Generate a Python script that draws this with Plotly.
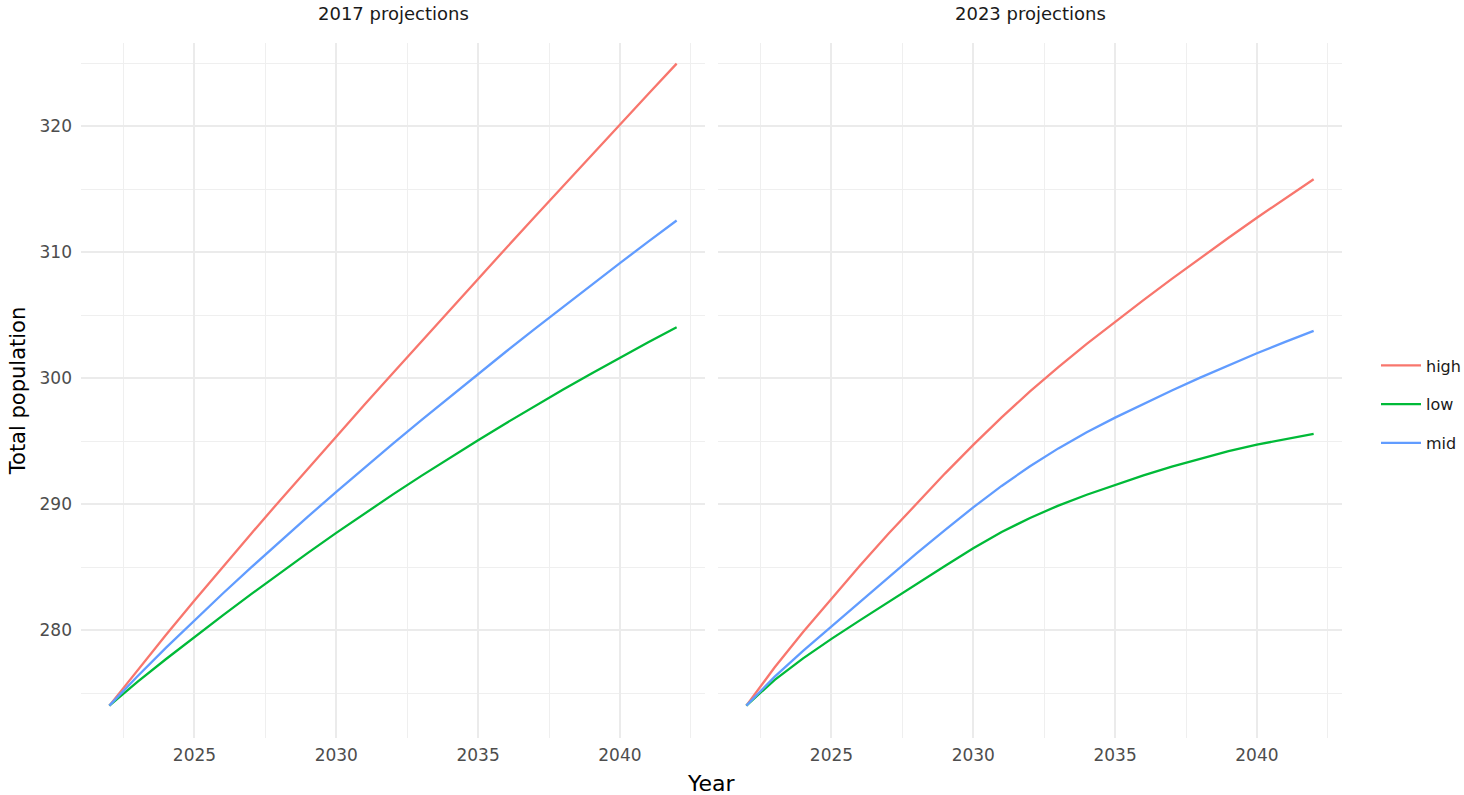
import plotly.graph_objects as go

# Projected total population (millions), annual values 2022-2042
years = list(range(2022, 2043))

high_2017 = [274.00, 276.85, 279.63, 282.35, 285.02, 287.65, 290.25, 292.82, 295.37, 297.90, 300.41,
             302.91, 305.40, 307.88, 310.35, 312.81, 315.26, 317.70, 320.13, 322.55, 324.96]
mid_2017 = [274.00, 276.35, 278.60, 280.78, 282.90, 284.97, 287.00, 289.00, 290.97, 292.90, 294.80,
            296.67, 298.51, 300.33, 302.13, 303.91, 305.67, 307.41, 309.13, 310.83, 312.51]
low_2017 = [274.00, 275.90, 277.70, 279.45, 281.17, 282.85, 284.50, 286.12, 287.71, 289.26, 290.77,
            292.24, 293.67, 295.07, 296.44, 297.78, 299.09, 300.37, 301.62, 302.84, 304.03]

high_2023 = [274.00, 277.05, 279.85, 282.50, 285.10, 287.62, 290.06, 292.42, 294.70, 296.88, 298.94,
             300.88, 302.72, 304.48, 306.19, 307.87, 309.52, 311.14, 312.73, 314.28, 315.79]
mid_2023 = [274.00, 276.30, 278.35, 280.30, 282.25, 284.18, 286.08, 287.94, 289.74, 291.44, 293.00,
            294.42, 295.70, 296.86, 297.96, 299.02, 300.04, 301.02, 301.97, 302.88, 303.75]
low_2023 = [274.00, 276.05, 277.75, 279.30, 280.77, 282.22, 283.66, 285.09, 286.50, 287.78, 288.90,
            289.88, 290.74, 291.52, 292.28, 292.98, 293.62, 294.20, 294.72, 295.17, 295.57]

panel_titles = ["2017 projections", "2023 projections"]
scenarios = ["high", "low", "mid"]
colors = {"high": "#F8766D", "low": "#00BA38", "mid": "#619CFF"}

panels = [
    {"high": high_2017, "low": low_2017, "mid": mid_2017},
    {"high": high_2023, "low": low_2023, "mid": mid_2023},
]

FONT = "DejaVu Sans"
W, H = 1464, 795
ML, MR, MT, MB = 81, 122, 43, 57
plot_w = W - ML - MR
plot_h = H - MT - MB
gap = 13 / plot_w
half = (1 - gap) / 2

fig = go.Figure()

axis_names = [("x", "y"), ("x2", "y2")]
for i, data in enumerate(panels):
    xa, ya = axis_names[i]
    for s in scenarios:
        fig.add_trace(go.Scatter(
            x=years, y=data[s], mode="lines", name=s,
            line=dict(color=colors[s], width=2.3),
            xaxis=xa, yaxis=ya, legendgroup=s, showlegend=(i == 0),
        ))

grid_major = dict(showgrid=True, gridcolor="#EBEBEB", gridwidth=1.6, zeroline=False,
                  showline=False, ticks="")
minor_x = dict(dtick=2.5, tick0=2020, showgrid=True, gridcolor="#EFEFEF", gridwidth=1)
minor_y = dict(dtick=5, tick0=270, showgrid=True, gridcolor="#EFEFEF", gridwidth=1)

xcommon = dict(range=[2021, 2043], tick0=2025, dtick=5, minor=minor_x,
               tickfont=dict(family=FONT, size=17, color="#4D4D4D"),
               ticklabelstandoff=5, **grid_major)
ycommon = dict(range=[271.43, 326.6], tick0=280, dtick=10, minor=minor_y,
               tickfont=dict(family=FONT, size=17, color="#4D4D4D"), **grid_major)

fig.update_layout(
    width=W, height=H,
    margin=dict(l=ML, r=MR, t=MT, b=MB, pad=0, autoexpand=False),
    paper_bgcolor="white", plot_bgcolor="white",
    font=dict(family=FONT, color="#1A1A1A"),
    xaxis=dict(domain=[0, half], **xcommon),
    xaxis2=dict(domain=[1 - half, 1], **xcommon),
    yaxis=dict(anchor="x", ticklabelstandoff=8,
               title=dict(text="Total population", standoff=8,
                          font=dict(family=FONT, size=21, color="black")),
               **ycommon),
    yaxis2=dict(anchor="x2", showticklabels=False, matches="y", **ycommon),
    legend=dict(x=(1376 - ML) / plot_w, xanchor="left", y=0.48, yanchor="middle",
                font=dict(family=FONT, size=16, color="#1A1A1A"),
                itemwidth=40,
                traceorder="grouped", tracegroupgap=15, bgcolor="rgba(0,0,0,0)"),
    showlegend=True,
)

# Facet strip titles
for i, t in enumerate(panel_titles):
    x0 = 0 if i == 0 else 1 - half
    fig.add_annotation(text=t, xref="paper", yref="paper", x=x0 + half / 2,
                       y=1 + 30 / plot_h, xanchor="center", yanchor="middle",
                       showarrow=False, font=dict(family=FONT, size=18, color="#1A1A1A"))

# Shared x-axis title
fig.add_annotation(text="Year", xref="paper", yref="paper", x=0.5, y=-45 / plot_h,
                   xanchor="center", yanchor="middle", showarrow=False,
                   font=dict(family=FONT, size=22, color="black"))

fig.write_html("out.html")
